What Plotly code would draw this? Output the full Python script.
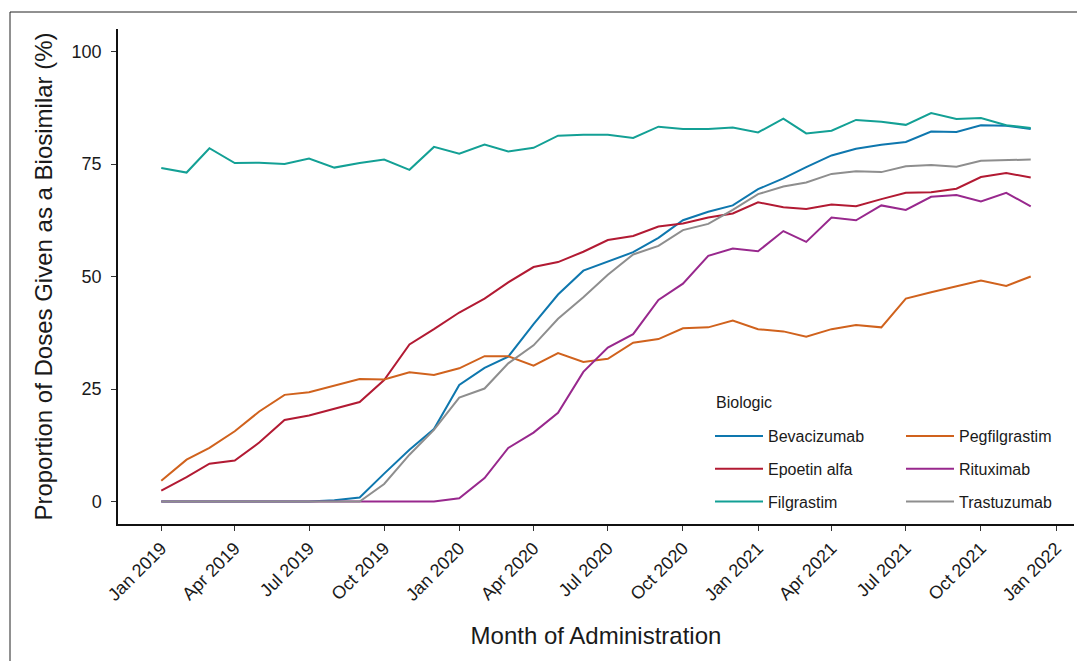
import pandas as pd
import plotly.graph_objects as go

# Monthly share of doses given as a biosimilar, Jan 2019 - Dec 2021
months = pd.date_range("2019-01-01", periods=36, freq="MS")

bevacizumab = [0, 0, 0, 0, 0, 0, 0, 0.3, 0.9, 6.2, 11.5, 16.1,
               25.9, 29.7, 32.2, 39.4, 46.0, 51.3, 53.4, 55.4, 58.6, 62.5, 64.4, 65.8,
               69.4, 71.8, 74.3, 76.9, 78.4, 79.3, 79.9, 82.2, 82.1, 83.6, 83.5, 82.8]
epoetin_alfa = [2.4, 5.4, 8.4, 9.1, 13.1, 18.1, 19.1, 20.6, 22.1, 27.0, 34.9, 38.3,
                42.0, 45.1, 48.7, 52.1, 53.2, 55.5, 58.1, 59.0, 61.1, 61.8, 63.1, 64.0,
                66.5, 65.4, 65.0, 66.0, 65.6, 67.2, 68.6, 68.7, 69.5, 72.1, 73.0, 72.0]
filgrastim = [74.1, 73.1, 78.5, 75.2, 75.3, 75.0, 76.2, 74.2, 75.2, 76.0, 73.7, 78.8,
              77.3, 79.3, 77.8, 78.6, 81.3, 81.5, 81.5, 80.8, 83.3, 82.8, 82.8, 83.1,
              82.0, 85.1, 81.8, 82.4, 84.8, 84.4, 83.7, 86.3, 85.0, 85.2, 83.6, 83.0]
pegfilgrastim = [4.6, 9.3, 11.9, 15.6, 20.0, 23.7, 24.3, 25.7, 27.2, 27.1, 28.7, 28.1,
                 29.6, 32.3, 32.3, 30.2, 33.0, 31.0, 31.7, 35.3, 36.1, 38.5, 38.7, 40.2,
                 38.3, 37.8, 36.6, 38.3, 39.2, 38.7, 45.1, 46.5, 47.8, 49.1, 47.9, 50.0]
rituximab = [0, 0, 0, 0, 0, 0, 0, 0, 0, 0, 0, 0,
             0.7, 5.2, 11.9, 15.3, 19.7, 28.8, 34.2, 37.2, 44.8, 48.4, 54.6, 56.2,
             55.6, 60.1, 57.7, 63.1, 62.5, 65.8, 64.8, 67.7, 68.1, 66.7, 68.6, 65.6]
trastuzumab = [0, 0, 0, 0, 0, 0, 0, 0, 0, 3.9, 10.4, 15.9,
               23.1, 25.1, 30.7, 34.7, 40.6, 45.4, 50.4, 54.9, 56.8, 60.3, 61.7, 64.8,
               68.3, 70.0, 70.9, 72.8, 73.4, 73.2, 74.5, 74.8, 74.4, 75.7, 75.8, 76.0]

biologics = ["Bevacizumab", "Epoetin alfa", "Filgrastim",
             "Pegfilgrastim", "Rituximab", "Trastuzumab"]
series = [bevacizumab, epoetin_alfa, filgrastim, pegfilgrastim, rituximab, trastuzumab]
colors = ["#0E77AE", "#B21A33", "#13A095", "#D0621D", "#98288D", "#8E8E8E"]
legend_ids = ["legend", "legend", "legend", "legend2", "legend2", "legend2"]

tick_dates = pd.date_range("2019-01-01", "2022-01-01", freq="QS")
tick_text = [d.strftime("%b %Y") for d in tick_dates]

NARROW = "Liberation Sans Narrow, Arial Narrow, Liberation Sans, sans-serif"
REGULAR = "Liberation Sans, Arial, sans-serif"
INK = "#1a1a1a"

fig = go.Figure()
for name, vals, col, lg in zip(biologics, series, colors, legend_ids):
    fig.add_trace(go.Scatter(
        x=months, y=vals, mode="lines", name=name,
        line=dict(color=col, width=2), legend=lg, legendgroup=name,
    ))

W, H = 1077, 661
L, R, T, B = 118, 3, 29, 137
pw, ph = W - L - R, H - T - B


def px(xp):
    return (xp - L) / pw


def py(yp):
    return (H - B - yp) / ph


legend_common = dict(
    font=dict(family=REGULAR, size=16, color=INK),
    bgcolor="rgba(0,0,0,0)", tracegroupgap=9,
    xanchor="left", yanchor="top", itemwidth=48,
)

fig.update_layout(
    width=W, height=H,
    margin=dict(l=L, r=R, t=T, b=B),
    paper_bgcolor="white", plot_bgcolor="white",
    showlegend=True,
    legend=dict(**legend_common, x=px(710), y=py(419)),
    legend2=dict(**legend_common, x=px(901), y=py(419)),
    xaxis=dict(
        type="date", range=["2018-11-09", "2022-01-23"],
        tickvals=tick_dates, ticktext=tick_text, tickangle=-45,
        ticks="outside", ticklen=5, tickwidth=1, tickcolor="#333",
        showline=True, linecolor="#111", linewidth=1.5,
        showgrid=False, zeroline=False,
        tickfont=dict(family=REGULAR, size=18, color=INK),
        title=dict(text="Month of Administration", standoff=23,
                   font=dict(family=NARROW, size=24, color=INK)),
    ),
    yaxis=dict(
        range=[-5, 105], tickvals=[0, 25, 50, 75, 100],
        ticks="outside", ticklen=5, tickwidth=1, tickcolor="#333",
        ticklabelstandoff=6,
        showline=True, linecolor="#111", linewidth=1.5,
        showgrid=False, zeroline=False,
        tickfont=dict(family=REGULAR, size=18, color=INK),
        title=dict(text="Proportion of Doses Given as a Biosimilar (%)", standoff=12,
                   font=dict(family=NARROW, size=24, color=INK)),
    ),
)

# Legend heading shared by both legend columns
fig.add_annotation(text="Biologic", xref="paper", yref="paper",
                   x=px(714), y=py(402), xanchor="left", yanchor="middle",
                   showarrow=False, font=dict(family=REGULAR, size=16, color=INK))

# Outer frame along the top and left of the figure
fig.add_shape(type="line", xref="paper", yref="paper",
              x0=px(10), x1=px(W + 5), y0=py(12), y1=py(12),
              line=dict(color="#222", width=1))
fig.add_shape(type="line", xref="paper", yref="paper",
              x0=px(10), x1=px(10), y0=py(12), y1=py(H + 5),
              line=dict(color="#222", width=1))

fig.write_html("out.html")
